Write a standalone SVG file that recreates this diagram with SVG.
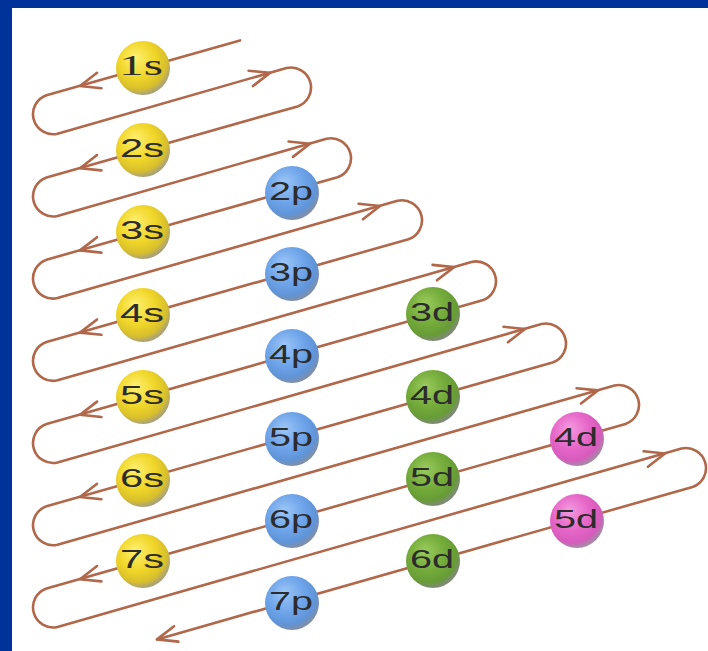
<svg xmlns="http://www.w3.org/2000/svg" xmlns:xlink="http://www.w3.org/1999/xlink" width="708" height="651" viewBox="0 0 708 651">
<style>
.ln{fill:none;stroke:#b0674a;stroke-width:2.6;stroke-linejoin:round;stroke-linecap:round}
.ah{fill:none;stroke:#b0674a;stroke-width:2.6;stroke-linecap:round;stroke-linejoin:round}
.lb{font-family:"Liberation Sans",Arial,sans-serif;font-size:25px;fill:#2c2c2c;text-anchor:middle}
.lbs{font-family:"Liberation Serif","Times New Roman",serif;font-size:30px;fill:#2c2c2c;text-anchor:middle}
.ys{fill:url(#gy)}.bp{fill:url(#gb)}.gd{fill:url(#gg)}.pk{fill:url(#gp)}
</style>
<defs>
<radialGradient id="gy" cx="0.42" cy="0.38" r="0.62" fx="0.35" fy="0.3">
<stop offset="0" stop-color="#fff070"/><stop offset="0.55" stop-color="#f0d628"/><stop offset="0.85" stop-color="#d8bf2c"/><stop offset="1" stop-color="#a9a27a"/>
</radialGradient>
<radialGradient id="gb" cx="0.42" cy="0.38" r="0.62" fx="0.35" fy="0.3">
<stop offset="0" stop-color="#9cc6f6"/><stop offset="0.55" stop-color="#6ea4ea"/><stop offset="0.85" stop-color="#5f94d8"/><stop offset="1" stop-color="#7f8fa8"/>
</radialGradient>
<radialGradient id="gg" cx="0.42" cy="0.38" r="0.62" fx="0.35" fy="0.3">
<stop offset="0" stop-color="#9acb5e"/><stop offset="0.55" stop-color="#74ab3a"/><stop offset="0.85" stop-color="#679c36"/><stop offset="1" stop-color="#808a78"/>
</radialGradient>
<radialGradient id="gp" cx="0.42" cy="0.38" r="0.62" fx="0.35" fy="0.3">
<stop offset="0" stop-color="#f59ae0"/><stop offset="0.55" stop-color="#e666c8"/><stop offset="0.85" stop-color="#d65bbc"/><stop offset="1" stop-color="#a58aa6"/>
</radialGradient>
<path id="ar" class="ah" d="M-20,-8 L0,0 L-20,8"/>
</defs>
<rect x="0" y="0" width="708" height="651" fill="#003399"/>
<rect x="12" y="8" width="696" height="643" fill="#ffffff"/>
<g id="connectors">
<path class="ln" d="M240,40.4 L46.5,95.3 A20,20 0 0 0 57.5,133.7 L286.5,68.0 A20,20 0 0 1 297.5,106.4 L46.5,177.5 A20,20 0 0 0 57.5,215.9 L326.5,138.8 A20,20 0 0 1 337.5,177.2 L46.5,259.7 A20,20 0 0 0 57.5,298.1 L397.5,200.8 A20,20 0 0 1 408.5,239.2 L46.5,341.9 A20,20 0 0 0 57.5,380.3 L471.5,261.9 A20,20 0 0 1 482.5,300.3 L46.5,424.1 A20,20 0 0 0 57.5,462.5 L541.5,324.1 A20,20 0 0 1 552.5,362.5 L46.5,506.3 A20,20 0 0 0 57.5,544.7 L614.5,385.5 A20,20 0 0 1 625.5,423.9 L46.5,588.5 A20,20 0 0 0 57.5,626.9 L681.5,448.6 A20,20 0 0 1 692.5,487.0 L157,639.4"/>
<use xlink:href="#ar" transform="translate(80,86) rotate(164.1)"/>
<use xlink:href="#ar" transform="translate(80,168.2) rotate(164.1)"/>
<use xlink:href="#ar" transform="translate(80,250.4) rotate(164.1)"/>
<use xlink:href="#ar" transform="translate(80,332.6) rotate(164.1)"/>
<use xlink:href="#ar" transform="translate(80,414.8) rotate(164.1)"/>
<use xlink:href="#ar" transform="translate(80,497) rotate(164.1)"/>
<use xlink:href="#ar" transform="translate(80,579.2) rotate(164.1)"/>
<use xlink:href="#ar" transform="translate(157,639.4) rotate(164.1)"/>
<use xlink:href="#ar" transform="translate(270,72.9) rotate(-15.9)"/>
<use xlink:href="#ar" transform="translate(310,143.7) rotate(-15.9)"/>
<use xlink:href="#ar" transform="translate(380,206) rotate(-15.9)"/>
<use xlink:href="#ar" transform="translate(454,267.1) rotate(-15.9)"/>
<use xlink:href="#ar" transform="translate(525,329) rotate(-15.9)"/>
<use xlink:href="#ar" transform="translate(598,390.4) rotate(-15.9)"/>
<use xlink:href="#ar" transform="translate(665,453.5) rotate(-15.9)"/>
</g>
<g id="n1s"><circle class="ys" cx="143" cy="68" r="27"/><text class="lbs" x="141" y="75" textLength="44" lengthAdjust="spacingAndGlyphs">1s</text></g>
<g id="n2s"><circle class="ys" cx="143" cy="150" r="27"/><text class="lb" x="142" y="157" textLength="44" lengthAdjust="spacingAndGlyphs">2s</text></g>
<g id="n3s"><circle class="ys" cx="143" cy="232" r="27"/><text class="lb" x="142" y="239" textLength="44" lengthAdjust="spacingAndGlyphs">3s</text></g>
<g id="n4s"><circle class="ys" cx="143" cy="315" r="27"/><text class="lb" x="142" y="322" textLength="44" lengthAdjust="spacingAndGlyphs">4s</text></g>
<g id="n5s"><circle class="ys" cx="143" cy="397" r="27"/><text class="lb" x="142" y="404" textLength="44" lengthAdjust="spacingAndGlyphs">5s</text></g>
<g id="n6s"><circle class="ys" cx="143" cy="480" r="27"/><text class="lb" x="142" y="487" textLength="44" lengthAdjust="spacingAndGlyphs">6s</text></g>
<g id="n7s"><circle class="ys" cx="143" cy="561" r="27"/><text class="lb" x="142" y="568" textLength="44" lengthAdjust="spacingAndGlyphs">7s</text></g>
<g id="n2p"><circle class="bp" cx="292" cy="193" r="27"/><text class="lb" x="291" y="200" textLength="44" lengthAdjust="spacingAndGlyphs">2p</text></g>
<g id="n3p"><circle class="bp" cx="292" cy="274" r="27"/><text class="lb" x="291" y="281" textLength="44" lengthAdjust="spacingAndGlyphs">3p</text></g>
<g id="n4p"><circle class="bp" cx="292" cy="356" r="27"/><text class="lb" x="291" y="363" textLength="44" lengthAdjust="spacingAndGlyphs">4p</text></g>
<g id="n5p"><circle class="bp" cx="292" cy="439" r="27"/><text class="lb" x="291" y="446" textLength="44" lengthAdjust="spacingAndGlyphs">5p</text></g>
<g id="n6p"><circle class="bp" cx="292" cy="521" r="27"/><text class="lb" x="291" y="528" textLength="44" lengthAdjust="spacingAndGlyphs">6p</text></g>
<g id="n7p"><circle class="bp" cx="292" cy="603" r="27"/><text class="lb" x="291" y="610" textLength="44" lengthAdjust="spacingAndGlyphs">7p</text></g>
<g id="n3d"><circle class="gd" cx="433" cy="314" r="27"/><text class="lb" x="432" y="321" textLength="44" lengthAdjust="spacingAndGlyphs">3d</text></g>
<g id="n4d"><circle class="gd" cx="433" cy="397" r="27"/><text class="lb" x="432" y="404" textLength="44" lengthAdjust="spacingAndGlyphs">4d</text></g>
<g id="n5d"><circle class="gd" cx="433" cy="479" r="27"/><text class="lb" x="432" y="486" textLength="44" lengthAdjust="spacingAndGlyphs">5d</text></g>
<g id="n6d"><circle class="gd" cx="433" cy="561" r="27"/><text class="lb" x="432" y="568" textLength="44" lengthAdjust="spacingAndGlyphs">6d</text></g>
<g id="n4d-pink"><circle class="pk" cx="577" cy="439" r="27"/><text class="lb" x="576" y="446" textLength="44" lengthAdjust="spacingAndGlyphs">4d</text></g>
<g id="n5d-pink"><circle class="pk" cx="577" cy="521" r="27"/><text class="lb" x="576" y="528" textLength="44" lengthAdjust="spacingAndGlyphs">5d</text></g>
</svg>
